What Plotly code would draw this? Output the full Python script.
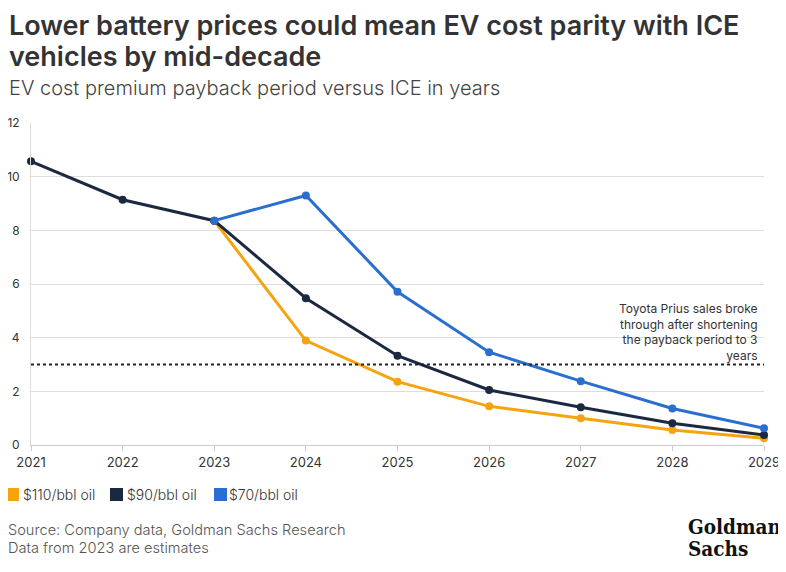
import plotly.graph_objects as go

years = [2021, 2022, 2023, 2024, 2025, 2026, 2027, 2028, 2029]
oil_110 = [None, None, 8.36, 3.89, 2.36, 1.44, 1.00, 0.56, 0.25]
oil_90 = [10.57, 9.14, 8.36, 5.47, 3.33, 2.05, 1.41, 0.81, 0.37]
oil_70 = [None, None, 8.36, 9.30, 5.71, 3.46, 2.38, 1.36, 0.62]
series_names = ["$110/bbl oil", "$90/bbl oil", "$70/bbl oil"]
colors = ["#F5A410", "#1B2940", "#2A6FD0"]
threshold = 3
y_ticks = [0, 2, 4, 6, 8, 10, 12]

FONT = "Inter, Roboto, sans-serif"
# The page has an 8px body margin; the figure is sized to fill the rest of the window.
OFF = 8
W, H = 786 - OFF, 572 - OFF
L, R, T, B = 31 - OFF, 22, 123 - OFF, 127
PW = W - L - R
PH = H - T - B


def px_x(p):
    return (p - OFF - L) / PW


def px_y(p):
    return (H - B - (p - OFF)) / PH


fig = go.Figure()
for name, vals, col in zip(series_names, [oil_110, oil_90, oil_70], colors):
    fig.add_trace(go.Scatter(x=years, y=vals, mode="lines+markers", name=name,
                             line=dict(color=col, width=3), marker=dict(color=col, size=8),
                             showlegend=False, hoverinfo="x+y", cliponaxis=False))

fig.add_shape(type="line", xref="paper", x0=0, x1=1, yref="y", y0=threshold, y1=threshold,
              line=dict(color="#222222", width=2, dash="dot"))

fig.add_annotation(xref="paper", x=0.995, yref="y", y=threshold, yanchor="bottom", xanchor="right",
                   align="right", showarrow=False, yshift=0,
                   text="Toyota Prius sales broke<br>through after shortening<br>the payback period to 3<br>years",
                   font=dict(family=FONT, size=12, color="#333333"))

# Titles
for txt, yc in [("Lower battery prices could mean EV cost parity with ICE", 25),
                ("vehicles by mid-decade", 56)]:
    fig.add_annotation(xref="paper", yref="paper", x=px_x(7), y=px_y(yc), xanchor="left", yanchor="middle",
                       showarrow=False, align="left", text=txt,
                       font=dict(family=FONT, size=27, color="#333333", weight=600))
fig.add_annotation(xref="paper", yref="paper", x=px_x(7), y=px_y(88), xanchor="left", yanchor="middle",
                   showarrow=False, align="left",
                   text="EV cost premium payback period versus ICE in years",
                   font=dict(family=FONT, size=20, color="#444444", weight=300))
# Source
for txt, yc in [("Source: Company data, Goldman Sachs Research", 530),
                ("Data from 2023 are estimates", 548)]:
    fig.add_annotation(xref="paper", yref="paper", x=px_x(6), y=px_y(yc), xanchor="left", yanchor="middle",
                       showarrow=False, align="left", text=txt,
                       font=dict(family=FONT, size=14.6, color="#555555", weight=300))
# Logo
for txt, yc in [("Goldman", 527), ("Sachs", 549)]:
    fig.add_annotation(xref="paper", yref="paper", x=px_x(686), y=px_y(yc), xanchor="left", yanchor="middle",
                       showarrow=False, align="left", text="<b>" + txt + "</b>",
                       font=dict(family="DejaVu Serif Condensed, DejaVu Serif, serif", size=20.5,
                                 color="#111111"))

# Legend (manual, compact)
legend_pos = [(6, 21), (110, 125), (214, 227)]
for (sx, tx), name, col in zip(legend_pos, series_names, colors):
    fig.add_shape(type="rect", xref="paper", yref="paper",
                  x0=px_x(sx), x1=px_x(sx + 13), y0=px_y(488), y1=px_y(501),
                  line=dict(width=0), fillcolor=col)
    fig.add_annotation(xref="paper", yref="paper", x=px_x(tx), y=px_y(494), xanchor="left", yanchor="middle",
                       showarrow=False, text=name,
                       font=dict(family=FONT, size=14, color="#333333", weight=300))

fig.update_layout(
    width=W, height=H,
    margin=dict(l=L, r=R, t=T, b=B),
    paper_bgcolor="white", plot_bgcolor="white",
    font=dict(family=FONT, size=13, color="#333333"),
    showlegend=False,
    xaxis=dict(range=[2021, 2029], tickvals=years, ticktext=[str(y) for y in years],
               showgrid=False, showline=True, linecolor="#cccccc", linewidth=1,
               ticks="outside", ticklen=5, tickcolor="#cccccc", zeroline=False, automargin=False,
               tickfont=dict(size=13, color="#333333")),
    yaxis=dict(range=[0, 12], tickvals=y_ticks, showgrid=True, gridcolor="#dddddd", gridwidth=1,
               showline=True, linecolor="#dddddd", zeroline=False, ticks="", ticklabelstandoff=8,
               automargin=False, tickfont=dict(size=12, color="#333333")),
)

fig.write_html("out.html")
